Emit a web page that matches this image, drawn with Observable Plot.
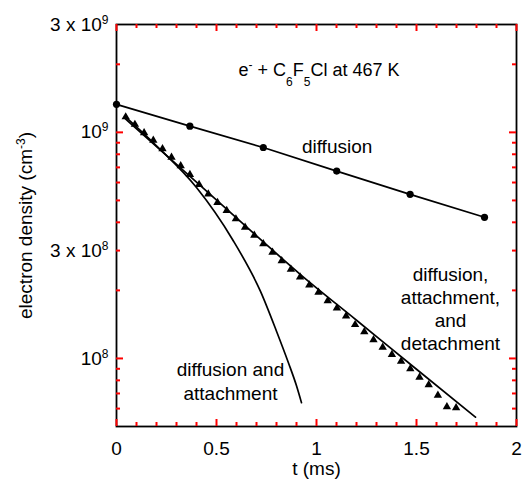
<!DOCTYPE html>
<html><head><meta charset="utf-8">
<script src="https://cdn.jsdelivr.net/npm/d3@7"></script>
<script src="https://cdn.jsdelivr.net/npm/@observablehq/plot@0.6"></script>
<style>
html,body{margin:0;padding:0;background:#fff;}
#chart svg{font-family:"Liberation Sans",Arial,Helvetica,sans-serif;display:block;}
</style></head><body><div id="chart"></div>
<script>
// ---- data ----
const diffusionT = [0, 0.367, 0.734, 1.101, 1.468, 1.84];
const diffusionN = [1.33e9, 1.065e9, 8.57e8, 6.74e8, 5.32e8, 4.21e8];

const measuredT = [0.046, 0.092, 0.138, 0.184, 0.230, 0.275, 0.321, 0.367, 0.413, 0.459,
  0.505, 0.551, 0.597, 0.643, 0.689, 0.734, 0.780, 0.826, 0.872, 0.918,
  0.964, 1.010, 1.056, 1.102, 1.148, 1.193, 1.239, 1.285, 1.331, 1.377,
  1.423, 1.469, 1.515, 1.561, 1.607, 1.652, 1.698];
const measuredN = [1.17e9, 1.084e9, 9.95e8, 9.22e8, 8.46e8, 7.76e8, 7.12e8, 6.50e8, 5.87e8, 5.33e8,
  4.89e8, 4.51e8, 4.14e8, 3.80e8, 3.50e8, 3.21e8, 2.95e8, 2.70e8, 2.48e8, 2.29e8,
  2.11e8, 1.96e8, 1.80e8, 1.67e8, 1.54e8, 1.41e8, 1.31e8, 1.21e8, 1.12e8, 1.04e8,
  9.70e7, 8.99e7, 8.25e7, 7.64e7, 6.87e7, 6.11e7, 6.05e7];

const detachT = [0.045, 0.4, 0.72, 0.92, 1.2, 1.5, 1.795];
const detachN = [1.147e9, 6.02e8, 3.36e8, 2.35e8, 1.476e8, 8.96e7, 5.5e7];

const attachT = [0.045, 0.2, 0.4, 0.58, 0.72, 0.8, 0.86, 0.9, 0.925];
const attachN = [1.17e9, 8.72e8, 5.70e8, 3.36e8, 1.98e8, 1.32e8, 9.55e7, 7.57e7, 6.37e7];

const xMajorTicks = [0, 0.5, 1, 1.5, 2];
const xMinorTicks = [0.1, 0.2, 0.3, 0.4, 0.6, 0.7, 0.8, 0.9, 1.1, 1.2, 1.3, 1.4, 1.6, 1.7, 1.8, 1.9];
const yMajorTicks = [1e8, 1e9];
const yMinorTicks = [6e7, 7e7, 8e7, 9e7, 2e8, 3e8, 4e8, 5e8, 6e8, 7e8, 8e8, 9e8, 2e9];
const yLabelTicks = [1e8, 3e8, 1e9, 3e9];
const yLabelText = ["10^8", "3 x 10^8", "10^9", "3 x 10^9"];

const titleText = "e^- + C_6F_5Cl at 467 K";
const labelDiffusion = "diffusion";
const labelDetach = "diffusion,\nattachment,\nand\ndetachment";
const labelAttach = "diffusion and\nattachment";
const xTitle = "t (ms)";
const yTitle = "electron density (cm^{-3})";

// ---- tables ----
const diffusion = diffusionT.map((t, i) => ({t, n: diffusionN[i]}));
const measured = measuredT.map((t, i) => ({t, n: measuredN[i]}));
const detach = detachT.map((t, i) => ({t, n: detachN[i]}));
const attach = attachT.map((t, i) => ({t, n: attachN[i]}));

const W = 522, H = 483, ML = 116, MR = 6, MT = 24, MB = 57;
const frameW = W - ML - MR, frameH = H - MT - MB;
const FS = 19;
const TICK_COLOR = "red";
// inward ticks: tick marks spanning the frame, inset so only `len` px remain at one edge
const tick = (data, side, len) => {
  const o = {stroke: TICK_COLOR, strokeWidth: 2};
  if (side === "bottom") return Plot.tickX(data, {x: d => d, insetTop: frameH - len, ...o});
  if (side === "top") return Plot.tickX(data, {x: d => d, insetBottom: frameH - len, ...o});
  if (side === "left") return Plot.tickY(data, {y: d => d, insetRight: frameW - len, ...o});
  return Plot.tickY(data, {y: d => d, insetLeft: frameW - len, ...o});
};

const chart = Plot.plot({
  width: W,
  height: H,
  marginLeft: ML,
  marginRight: MR,
  marginTop: MT,
  marginBottom: MB,
  style: {fontFamily: '"Liberation Sans", Arial, Helvetica, sans-serif', background: "#fff", color: "#000"},
  x: {domain: [0, 2]},
  y: {type: "log", domain: [5e7, 3e9]},
  marks: [
    Plot.frame({stroke: "#000", strokeWidth: 1.8}),
    // ticks (inward, all four sides)
    tick(xMajorTicks, "bottom", 7), tick(xMinorTicks, "bottom", 4),
    tick(xMajorTicks, "top", 7), tick(xMinorTicks, "top", 4),
    tick(yMajorTicks, "left", 7), tick(yMinorTicks, "left", 4),
    tick(yMajorTicks, "right", 7), tick(yMinorTicks, "right", 4),
    // tick labels
    Plot.axisX(xMajorTicks, {anchor: "bottom", tickSize: 0, tickPadding: 15, fontSize: FS, label: null, tickFormat: d => String(d)}),
    Plot.axisY(yLabelTicks, {anchor: "left", tickSize: 0, tickPadding: 8, fontSize: FS, label: null,
      tickFormat: d => yLabelText[yLabelTicks.indexOf(d)]}),
    // data
    Plot.line(diffusion, {x: "t", y: "n", stroke: "#000", strokeWidth: 1.7}),
    Plot.dot(diffusion, {x: "t", y: "n", r: 3.6, fill: "#000", stroke: null}),
    Plot.line(detach, {x: "t", y: "n", stroke: "#000", strokeWidth: 1.7, curve: "monotone-x"}),
    Plot.line(attach, {x: "t", y: "n", stroke: "#000", strokeWidth: 1.7, curve: "monotone-x"}),
    Plot.dot(measured, {x: "t", y: "n", symbol: "triangle", r: 3.1, fill: "#000", stroke: null}),
    // annotations
    Plot.text([titleText], {x: 1.0125, y: 1.885e9, text: d => d, fontSize: 18, fill: "#000"}),
    Plot.text([labelDiffusion], {x: 1.103, y: 8.63e8, text: d => d, fontSize: FS, fill: "#000"}),
    Plot.text([labelDetach], {x: 1.67, y: 1.67e8, text: d => d, fontSize: FS, lineHeight: 1.2, fill: "#000"}),
    Plot.text([labelAttach], {x: 0.57, y: 8.0e7, text: d => d, fontSize: FS, lineHeight: 1.28, fill: "#000"}),
    Plot.text([xTitle], {frameAnchor: "bottom", dy: 42, lineAnchor: "middle", textAnchor: "middle", text: d => d, fontSize: FS, fill: "#000"}),
    Plot.text([yTitle], {frameAnchor: "left", dx: -91, rotate: -90, lineAnchor: "middle", textAnchor: "middle", text: d => d, fontSize: FS, fill: "#000"})
  ]
});
document.getElementById("chart").appendChild(chart);

// super/subscript formatting of text ("^x", "_x", "^{..}")
const SVGNS = "http://www.w3.org/2000/svg";
function richify(el) {
  const s = el.textContent;
  if (!/[\^_]/.test(s) || el.querySelector("tspan")) return;
  const parts = [];
  let buf = "", i = 0;
  while (i < s.length) {
    const c = s[i];
    if (c === "^" || c === "_") {
      if (buf) parts.push({t: buf, type: "n"});
      buf = "";
      let t;
      if (s[i + 1] === "{") { const j = s.indexOf("}", i); t = s.slice(i + 2, j); i = j + 1; }
      else { t = s[i + 1]; i += 2; }
      parts.push({t, type: c === "^" ? "sup" : "sub"});
    } else { buf += c; i++; }
  }
  if (buf) parts.push({t: buf, type: "n"});
  el.textContent = "";
  let shift = 0;
  for (const p of parts) {
    const ts = document.createElementNS(SVGNS, "tspan");
    const target = p.type === "sup" ? -7 : p.type === "sub" ? 10 : 0;
    if (target - shift !== 0) ts.setAttribute("dy", target - shift);
    shift = target;
    if (p.type !== "n") ts.setAttribute("font-size", 12);
    ts.textContent = p.t;
    el.appendChild(ts);
  }
}
chart.querySelectorAll("text").forEach(richify);
</script></body></html>
